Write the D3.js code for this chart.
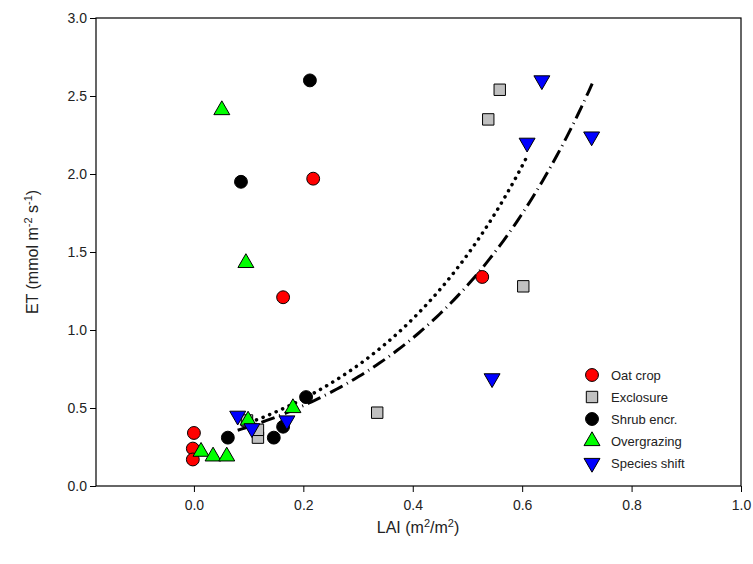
<!DOCTYPE html>
<html><head><meta charset="utf-8">
<script src="https://cdn.jsdelivr.net/npm/d3@7"></script>
<style>body{margin:0;background:#fff}text{font-family:Arial,"Liberation Sans",sans-serif;fill:#222}</style>
</head><body>
<svg id="c" width="753" height="564"></svg>
<script>
// data: [LAI, ET]
const oatCrop = [[0.0, 0.34], [-0.002, 0.24], [-0.002, 0.17], [0.218, 1.97], [0.163, 1.21], [0.527, 1.34]];
const exclosure = [[0.335, 0.47], [0.538, 2.35], [0.559, 2.54], [0.602, 1.28], [0.117, 0.31], [0.117, 0.36], [0.097, 0.42]];
const shrubEncr = [[0.212, 2.60], [0.086, 1.95], [0.062, 0.31], [0.146, 0.31], [0.163, 0.38], [0.205, 0.57]];
const overgrazing = [[0.051, 2.41], [0.095, 1.43], [0.013, 0.22], [0.035, 0.19], [0.06, 0.19], [0.099, 0.42], [0.181, 0.50]];
const speciesShift = [[0.636, 2.60], [0.609, 2.20], [0.727, 2.24], [0.545, 0.69], [0.08, 0.45], [0.106, 0.37], [0.17, 0.42]];
// fitted curves y = a*exp(b*x)
const fitDotted = {a: 0.292, b: 3.25, from: 0.09, to: 0.609};
const fitDashDot = {a: 0.28, b: 3.05, from: 0.08, to: 0.728};
const xTicks = [0, 0.2, 0.4, 0.6, 0.8, 1.0];
const yTicks = [0, 0.5, 1.0, 1.5, 2.0, 2.5, 3.0];

const svg = d3.select('#c');
const x = d3.scaleLinear().domain([-0.179, 1.0]).range([96, 741]);
const y = d3.scaleLinear().domain([0, 3]).range([486, 18]);

svg.append('rect').attr('x', 96).attr('y', 18).attr('width', 645).attr('height', 468)
    .style('fill', 'none').style('stroke', '#000').style('stroke-width', 1.2);

const xa = svg.append('g').attr('transform', 'translate(0,486)')
    .call(d3.axisBottom(x).tickValues(xTicks).tickFormat(d3.format('.1f')).tickSizeOuter(0).tickSize(6));
const ya = svg.append('g').attr('transform', 'translate(96,0)')
    .call(d3.axisLeft(y).tickValues(yTicks).tickFormat(d3.format('.1f')).tickSizeOuter(0).tickSize(6));
[xa, ya].forEach(a => {
    a.select('.domain').remove();
    a.selectAll('text').style('font-size', '14px').style('fill', '#222');
});
xa.selectAll('text').attr('dy', '1.1em');

// axis titles
const xt = svg.append('text').attr('x', 418).attr('y', 533).attr('text-anchor', 'middle').style('font-size', '16px');
xt.append('tspan').text('LAI (m');
xt.append('tspan').text('2').attr('dy', -6).style('font-size', '11px');
xt.append('tspan').text('/m').attr('dy', 6);
xt.append('tspan').text('2').attr('dy', -6).style('font-size', '11px');
xt.append('tspan').text(')').attr('dy', 6);

const yt = svg.append('text').attr('transform', 'translate(38,252) rotate(-90)').attr('text-anchor', 'middle').style('font-size', '16px');
yt.append('tspan').text('ET (mmol m');
yt.append('tspan').text('-2').attr('dy', -6).style('font-size', '11px');
yt.append('tspan').text(' s').attr('dy', 6);
yt.append('tspan').text('-1').attr('dy', -6).style('font-size', '11px');
yt.append('tspan').text(')').attr('dy', 6);

// fit curves
function curve(f) {
    return d3.range(0, 101).map(i => {
        const xv = f.from + (f.to - f.from) * i / 100;
        return [xv, f.a * Math.exp(f.b * xv)];
    });
}
const line = d3.line().x(d => x(d[0])).y(d => y(d[1]));
svg.append('path').attr('d', line(curve(fitDotted)))
    .style('fill', 'none').style('stroke', '#000').style('stroke-width', 3.5)
    .style('stroke-dasharray', '0.1 7').style('stroke-linecap', 'round');
svg.append('path').attr('d', line(curve(fitDashDot)))
    .style('fill', 'none').style('stroke', '#000').style('stroke-width', 3)
    .style('stroke-dasharray', '14 5 1 5');

const series = [
    {name: 'Oat crop', data: oatCrop, sym: d3.symbolCircle, fill: '#ff0000', size: 130},
    {name: 'Exclosure', data: exclosure, sym: d3.symbolSquare, fill: '#c0c0c0', size: 130},
    {name: 'Shrub encr.', data: shrubEncr, sym: d3.symbolCircle, fill: '#000000', size: 130},
    {name: 'Overgrazing', data: overgrazing, sym: d3.symbolTriangle, fill: '#00ff00', size: 110},
    {name: 'Species shift', data: speciesShift, sym: d3.symbolTriangle, fill: '#0000ff', size: 110, flip: true}
];

series.forEach((s, i) => {
    const p = d3.symbol().type(s.sym).size(s.size)();
    svg.append('g').selectAll('path').data(s.data).enter().append('path')
        .attr('d', p)
        .attr('transform', d => `translate(${x(d[0])},${y(d[1])})` + (s.flip ? ' rotate(180)' : ''))
        .style('fill', s.fill).style('stroke', '#000').style('stroke-width', 1);
    const ly = 375 + i * 22;
    svg.append('path').attr('d', p)
        .attr('transform', `translate(592,${ly})` + (s.flip ? ' rotate(180)' : ''))
        .style('fill', s.fill).style('stroke', '#000').style('stroke-width', 1);
    svg.append('text').attr('x', 611).attr('y', ly + 5).text(s.name).style('font-size', '13px');
});
</script>
</body></html>
